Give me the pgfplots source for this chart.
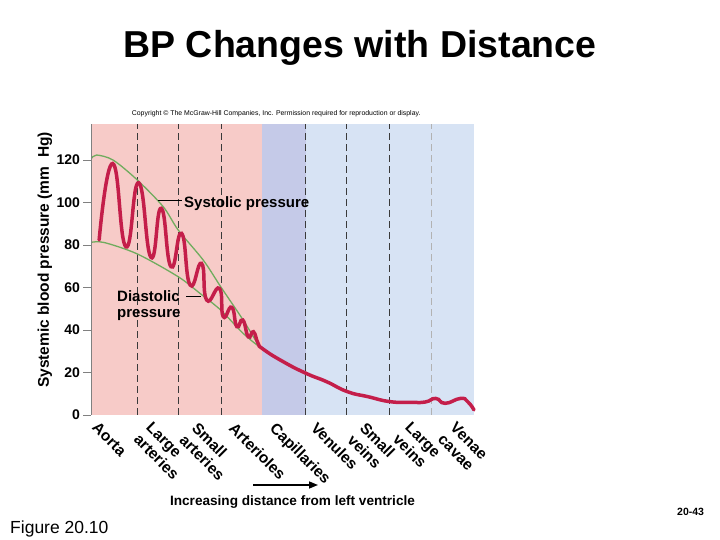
\documentclass[border=0pt]{standalone}
\usepackage{fontspec}
\setmainfont{Liberation Sans}
\usepackage{pgfplots}
\pgfplotsset{compat=1.18}
\usetikzlibrary{arrows.meta}
\definecolor{pinkbg}{HTML}{F7CBC8}
\definecolor{capbg}{HTML}{C5CAE8}
\definecolor{bluebg}{HTML}{D7E3F4}
\definecolor{bpred}{HTML}{C41E4A}
\definecolor{envgreen}{HTML}{70AC5E}
\definecolor{dashgray}{HTML}{3A3A3A}
\tikzset{vdash/.style={dashgray, line width=0.9pt, dash pattern=on 7pt off 4pt}}
\begin{document}
\begin{tikzpicture}[x=1pt,y=1pt]
\useasboundingbox (0,0) rectangle (720,540);
\begin{axis}[
  at={(91.5pt,125pt)}, anchor=south west,
  scale only axis, width=382.5pt, height=291pt,
  xmin=0, xmax=9, ymin=0, ymax=137,
  hide x axis,
  axis y line*=left,
  y axis line style={-, draw=gray, line width=0.8pt},
  axis on top,
  ytick={0,20,40,60,80,100,120},
  tick align=outside, major tick length=8pt,
  ytick style={draw=gray, line width=0.8pt},
  /pgf/number format/assume math mode=true,
  yticklabel style={font=\bfseries\fontsize{14}{14}\selectfont},
  clip=false,
]
\fill[pinkbg] (0,0) rectangle (4.01,137);
\fill[capbg] (4.01,0) rectangle (5.04,137);
\fill[bluebg] (5.04,0) rectangle (9,137);
\draw[vdash] (1.07,0) -- (1.07,137);
\draw[vdash] (2.04,0) -- (2.04,137);
\draw[vdash] (3.05,0) -- (3.05,137);
\draw[vdash] (5.04,0) -- (5.04,137);
\draw[vdash] (6.01,0) -- (6.01,137);
\draw[vdash] (7.02,0) -- (7.02,137);
\draw[vdash, draw=gray!60] (7.99,0) -- (7.99,137);
% systolic envelope
\addplot[envgreen, line width=1.3pt, smooth] coordinates {
(0,120.8) (0.12,122.4) (0.51,120) (1.08,110.6) (1.69,98) (2.04,87.1) (2.63,72.9) (3.04,60.4) (3.57,44.7) (4.0,31.4) (4.5,25.1)
};
% diastolic envelope
\addplot[envgreen, line width=1.3pt, smooth] coordinates {
(0,81.3) (0.3,81.2) (1.08,75.8) (2.04,65.1) (2.55,57.3) (3.04,49.4) (3.57,38.4) (4.0,31.4) (4.5,25.1)
};
% blood pressure
\addplot[bpred, line width=3.5pt, smooth, tension=0.9, line cap=round] coordinates {
(0.18,82.4) (0.50,118.4) (0.81,79.2) (1.11,109.3) (1.40,74.2) (1.64,97.3) (1.87,69.8) (2.12,85.5) (2.32,61.2) (2.59,71.4) (2.71,54.1) (3.01,59.6) (3.10,46.3) (3.30,50.7) (3.42,41.6) (3.56,44.7) (3.69,36.8) (3.81,39.2) (3.92,33.7) (4.04,31.0) (4.51,25.1) (5.05,19.6) (5.53,15.7) (6.02,11) (6.51,8.6) (7.02,6.3) (7.49,6.0) (7.85,6.1) (8.1,7.8) (8.32,5.5) (8.68,7.8) (8.85,6.3) (9.0,2.4)
};
\end{axis}
% title and texts
\node[anchor=base, font=\bfseries\fontsize{37.5}{40}\selectfont] at (360,482.7) {BP Changes with Distance};
\node[anchor=west, font=\fontsize{6.9}{7}\selectfont, inner sep=0] at (131.7,426.7) {Copyright © The McGraw-Hill Companies, Inc. Permission required for reproduction or display.};
\node[rotate=90, font=\bfseries\fontsize{15.5}{16}\selectfont] at (45,280) {Systemic blood pressure (mm\ \ Hg)};
\draw[black, line width=1pt] (158,339.3) -- (182,339.3);
\node[anchor=base west, inner sep=0, font=\bfseries\fontsize{15}{18}\selectfont] at (184,332.7) {Systolic pressure};
\draw[black, line width=1pt] (186,243.3) -- (201,243.3);
\node[anchor=base west, inner sep=0, font=\bfseries\fontsize{15}{18}\selectfont] at (117,238.3) {Diastolic};
\node[anchor=base west, inner sep=0, font=\bfseries\fontsize{15}{18}\selectfont] at (117,222.7) {pressure};
% category labels
\tikzset{cat/.style={rotate=-45, anchor=north west, inner sep=0, align=left, font=\bfseries\fontsize{15.5}{17.5}\selectfont}}
\node[cat] at (99,119) {Aorta};
\node[cat] at (153,119.3) {Large\\arteries};
\node[cat] at (199,119) {Small\\arteries};
\node[cat] at (236,119) {Arterioles};
\node[cat] at (277,119) {Capillaries};
\node[cat] at (318,119) {Venules};
\node[cat] at (367,119) {Small\\veins};
\node[cat] at (412,119.3) {Large\\veins};
\node[cat] at (457,119.3) {Venae\\cavae};
\draw[black, line width=1.5pt, -{Triangle[length=9pt,width=7pt]}] (253,55) -- (318,55);
\node[anchor=base, font=\bfseries\fontsize{13.6}{16}\selectfont] at (292.5,34) {Increasing distance from left ventricle};
\node[anchor=base west, inner sep=0, font=\fontsize{17.5}{18}\selectfont] at (10,6.3) {Figure 20.10};
\node[anchor=base west, inner sep=0, font=\bfseries\fontsize{10.5}{12}\selectfont] at (677,24.5) {20-43};
\end{tikzpicture}
\end{document}
